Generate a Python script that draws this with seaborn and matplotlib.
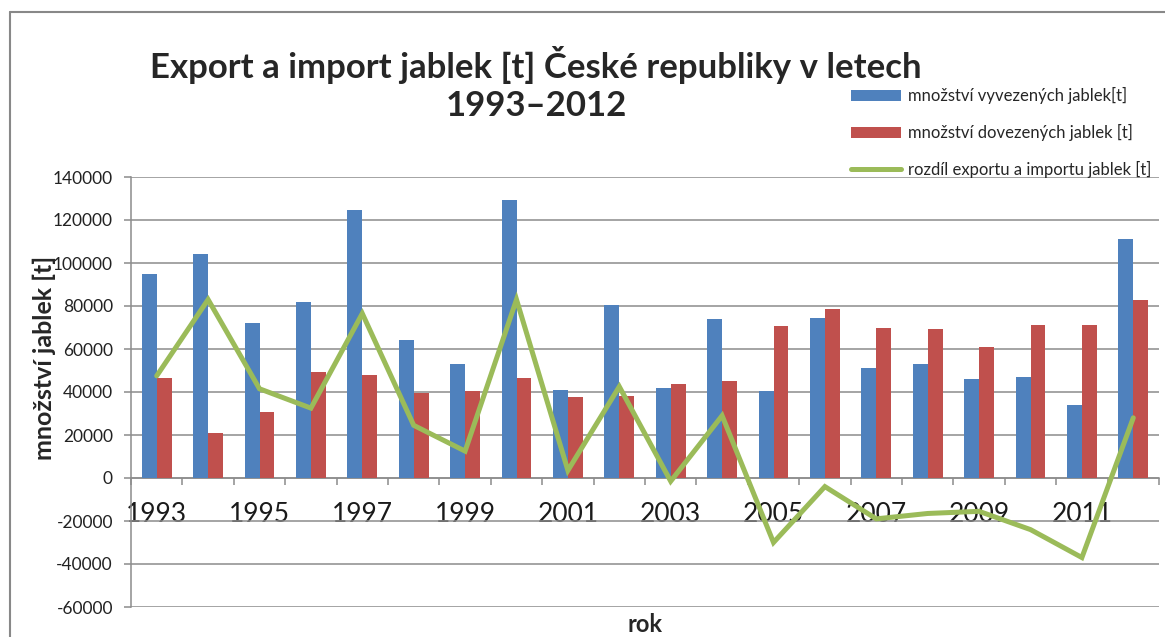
"""
Export a import jablek CR 1993-2012 - sloupcovy graf s carou rozdilu
"""

import pandas as pd
import numpy as np
import matplotlib
matplotlib.use('Agg')
import matplotlib.pyplot as plt
from matplotlib.patches import Patch
from matplotlib.lines import Line2D
import seaborn as sns

# Data
years = [1993, 1994, 1995, 1996, 1997, 1998, 1999, 2000, 2001, 2002,
         2003, 2004, 2005, 2006, 2007, 2008, 2009, 2010, 2011, 2012]
export_t = [95000, 104000, 72000, 82000, 124500, 64000, 53000, 129500, 41000, 80500,
            42000, 74000, 40500, 74500, 51000, 53000, 46000, 47000, 34000, 111000]
import_t = [46500, 21000, 30500, 49500, 48000, 39500, 40500, 46500, 37500, 38000,
            43500, 45000, 70500, 78500, 70000, 69500, 61000, 71000, 71000, 83000]
diff_t = [47500, 83000, 41500, 32500, 76500, 24500, 12500, 83000, 3500, 42500,
          -1500, 29000, -30000, -4000, -19000, -16500, -15500, -24000, -37000, 28000]

series_names = ['množství vyvezených jablek[t]',
                'množství dovezených jablek [t]',
                'rozdíl exportu a importu jablek [t]']
ytick_vals = [-60000, -40000, -20000, 0, 20000, 40000, 60000, 80000, 100000, 120000, 140000]

BLUE = '#4F81BD'
RED = '#C0504D'
GREEN = '#9BBB59'
GRID = '#8c8c8c'

sns.set_theme(style='white')
plt.rcParams['font.family'] = ['Lato', 'DejaVu Sans']

df = pd.DataFrame({
    'rok': [str(y) for y in years] * 2,
    'hodnota': export_t + import_t,
    'serie': [series_names[0]] * len(years) + [series_names[1]] * len(years),
})

fig = plt.figure(figsize=(11.65, 6.37), dpi=100)
ax = fig.add_axes([131 / 1165, 1 - 607 / 637, 1028 / 1165, 430 / 637])

sns.barplot(data=df, x='rok', y='hodnota', hue='serie', palette=[BLUE, RED],
            width=0.58, saturation=1, linewidth=0, legend=False, ax=ax, zorder=3)
ax.plot(np.arange(len(years)), diff_t, color=GREEN, lw=3.6, zorder=4,
        solid_joinstyle='miter')

ax.set_xlim(-0.5, len(years) - 0.5)
ax.set_ylim(-60000, 140000)
ax.set_yticks(ytick_vals)
ax.set_yticklabels([str(v) for v in ytick_vals], fontsize=12.5, color='#222222')
ax.yaxis.grid(True, color=GRID, lw=1.1, zorder=0)
ax.set_axisbelow(True)

# x osa prochazi nulou, carky na hranicich kategorii, popisky u lichych let
ax.spines['bottom'].set_position(('data', 0))
ax.spines['bottom'].set_color(GRID)
ax.spines['left'].set_color(GRID)
ax.spines['top'].set_visible(False)
ax.spines['right'].set_visible(False)
for s in ['bottom', 'left']:
    ax.spines[s].set_linewidth(1.1)

ax.set_xticks(np.arange(-0.5, len(years), 1.0))
ax.set_xticklabels([])
ax.set_xticks(np.arange(0, len(years), 2), minor=True)
ax.set_xticklabels([str(y) for y in years[::2]], minor=True, fontsize=19, color='#1a1a1a')
ax.tick_params(axis='x', which='major', direction='out', length=5, width=1.1, color=GRID, bottom=True)
ax.tick_params(axis='x', which='minor', length=0, pad=17)
ax.tick_params(axis='y', direction='out', length=5, width=1.1, color=GRID, left=True, pad=8)
ax.set_xlabel('')
ax.set_ylabel('')

fig.text(44 / 1165, 1 - 358 / 637, 'množství jablek [t]', rotation=90, fontsize=18,
         fontweight='bold', ha='center', va='center')
fig.text(645 / 1165, 1 - 624 / 637, 'rok', fontsize=17, fontweight='bold',
         ha='center', va='center')

fig.text(536 / 1165, 1 - 84 / 637, 'Export a import jablek [t] České republiky v letech\n1993–2012',
         fontsize=25, fontweight='bold', ha='center', va='center', linespacing=1.2)

handles = [Patch(facecolor=BLUE, edgecolor='none'),
           Patch(facecolor=RED, edgecolor='none'),
           Line2D([0], [0], color=GREEN, lw=3.6)]
fig.legend(handles, series_names, loc='upper left', bbox_to_anchor=(851 / 1165, 1 - 87 / 637),
           frameon=False, fontsize=12, handlelength=3.0, handleheight=0.62,
           handletextpad=0.45, labelspacing=1.2, borderpad=0, borderaxespad=0)

# ramecek grafu (jen horni a leva hrana jsou videt)
fig.add_artist(Line2D([10 / 1165, 10 / 1165], [0, 1 - 12 / 637], color='#888888', lw=1.5,
                      transform=fig.transFigure))
fig.add_artist(Line2D([10 / 1165, 1], [1 - 12 / 637, 1 - 12 / 637], color='#888888', lw=1.5,
                      transform=fig.transFigure))

fig.savefig('out.png', dpi=100)
